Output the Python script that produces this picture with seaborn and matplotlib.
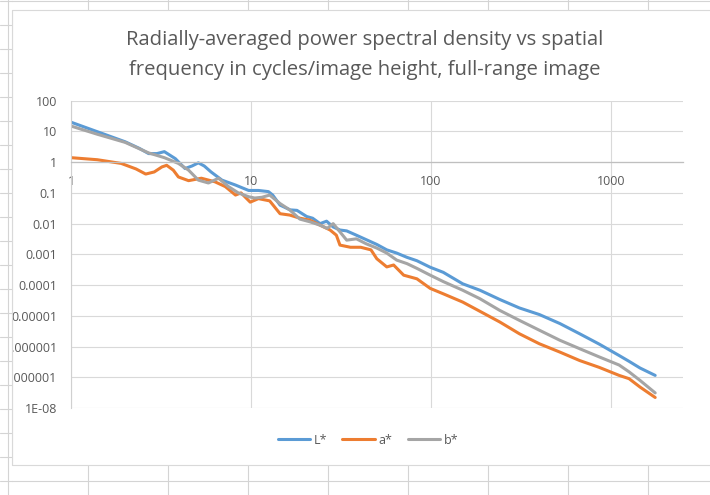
import matplotlib
matplotlib.use("Agg")
import matplotlib.pyplot as plt
import seaborn as sns
import pandas as pd
from matplotlib.lines import Line2D
from matplotlib.patches import Rectangle
from matplotlib.ticker import NullLocator

W, H = 710, 495

# values: spatial frequency (cycles/image height) and PSD
l_freq = [1, 1.4, 2, 2.4, 2.7, 3.0, 3.3, 3.8, 4.3, 4.7, 5.1, 5.5, 6.0, 6.9, 8.2, 9.7, 11, 12.5, 13.2, 14.5,
          16.5, 18, 20.4, 22, 24.2, 26.3, 28.6, 31.2, 34, 38.5, 43.7, 50, 56.8, 64.5,
          73.5, 83.5, 99, 117, 150, 187, 241, 310, 400, 520, 670, 860, 1110, 1260, 1450, 1760]
l_psd = [20, 9.8, 4.6, 2.8, 1.9, 1.9, 2.2, 1.3, 0.62, 0.75, 0.95, 0.75, 0.48, 0.26, 0.18, 0.12, 0.12, 0.11, 0.085, 0.040,
         0.028, 0.027, 0.017, 0.015, 0.010, 0.012, 0.0078, 0.0062, 0.0058, 0.0042, 0.0030, 0.0021, 0.0014, 0.0011,
         0.00080, 0.00062, 0.00038, 0.00026, 0.00011, 6.8e-5, 3.4e-5, 1.8e-5, 1.1e-5, 5.6e-6, 2.6e-6, 1.2e-6, 5.1e-7,
         3.3e-7, 2.0e-7, 1.15e-7]

a_freq = [1, 1.4, 1.9, 2.3, 2.6, 2.9, 3.2, 3.4, 3.7, 3.95, 4.5, 5.3, 6.3, 7.2, 8.2, 8.8, 9.9, 11, 12.7,
          14.5, 16.4, 18.7, 21.2, 24.2, 27.5, 29.8, 31.2, 35.7, 40.7, 46.4, 50, 56.8, 62,
          70.5, 83.5, 99, 117, 150, 183, 241, 310, 400, 520, 670, 860, 1110, 1260, 1450, 1760]
a_psd = [1.4, 1.2, 0.91, 0.6, 0.41, 0.48, 0.7, 0.79, 0.55, 0.33, 0.25, 0.30, 0.23, 0.16, 0.085, 0.10, 0.050, 0.065, 0.055,
         0.021, 0.019, 0.015, 0.013, 0.0089, 0.0062, 0.0042, 0.0020, 0.0017, 0.0017, 0.0014, 0.00072, 0.00039, 0.00045,
         0.00021, 0.00016, 7.8e-5, 5.2e-5, 2.8e-5, 1.5e-5, 6.3e-6, 2.6e-6, 1.23e-6, 6.6e-7, 3.5e-7, 2.1e-7, 1.15e-7,
         9.0e-8, 4.8e-8, 2.2e-8]

b_freq = [1, 1.4, 2, 2.7, 3.3, 3.95, 4.5, 5.1, 5.8, 6.6, 7.5, 8.5, 9.7, 10.5, 11.5, 12.7,
          14.5, 16.4, 18.7, 21.2, 24.2, 26.5, 28.6, 31.2, 34, 38.5, 43.7, 50, 56.8, 64.5,
          73.5, 83.5, 99, 117, 150, 187, 241, 310, 400, 520, 670, 860, 1110, 1260, 1450, 1760]
b_psd = [15, 8.1, 4.4, 2.0, 1.4, 0.91, 0.55, 0.26, 0.21, 0.30, 0.16, 0.10, 0.075, 0.068, 0.072, 0.085,
         0.045, 0.028, 0.014, 0.0115, 0.0089, 0.0070, 0.010, 0.0054, 0.0029, 0.0032, 0.0022, 0.0016, 0.0011, 0.00065,
         0.00050, 0.00035, 0.00021, 0.00013, 6.8e-5, 3.6e-5, 1.5e-5, 7.1e-6, 3.4e-6, 1.6e-6, 8.5e-7, 4.6e-7, 2.5e-7,
         1.5e-7, 7.9e-8, 3.1e-8]

channels = ["L*", "a*", "b*"]
colors = {"L*": "#5B9BD5", "a*": "#ED7D31", "b*": "#A5A5A5"}
x_ticks = [1, 10, 100, 1000]
x_labels = ["1", "10", "100", "1000"]
y_ticks = [100, 10, 1, 0.1, 0.01, 0.001, 1e-4, 1e-5, 1e-6, 1e-7, 1e-8]
y_labels = ["100", "10", "1", "0.1", "0.01", "0.001", "0.0001", "0.00001",
            "0.000001", "0.0000001", "1E-08"]
title1 = "Radially-averaged power spectral density vs spatial"
title2 = "frequency in cycles/image height, full-range image"

psd = pd.concat([
    pd.DataFrame({"freq": l_freq, "psd": l_psd, "channel": "L*"}),
    pd.DataFrame({"freq": a_freq, "psd": a_psd, "channel": "a*"}),
    pd.DataFrame({"freq": b_freq, "psd": b_psd, "channel": "b*"}),
])

sns.set_theme(style="white")
plt.rcParams["font.family"] = ["Open Sans", "DejaVu Sans"]
text_col = "#595959"
sheet_col = "#d4d4d4"

fig = plt.figure(figsize=(W / 100, H / 100), dpi=100)


# pixel -> figure fraction
def fx(px):
    return px / W


def fy(py):
    return 1 - py / H


# spreadsheet cells behind the chart
for x in range(8, W, 80):
    fig.add_artist(Line2D([fx(x), fx(x)], [0, 1], color=sheet_col, lw=0.8, zorder=-5))
for y in range(1, H, 24):
    fig.add_artist(Line2D([0, 1], [fy(y), fy(y)], color=sheet_col, lw=0.8, zorder=-5))
# chart area
fig.add_artist(Rectangle((fx(11.5), fy(465)), 1.0, fy(10) - fy(465), facecolor="white",
                         edgecolor="#d9d9d9", lw=0.8, zorder=-4))

ax = fig.add_axes([fx(71), fy(408), fx(683) - fx(71), fy(100.7) - fy(408)])
ax.set_facecolor("none")
sns.lineplot(data=psd, x="freq", y="psd", hue="channel", hue_order=channels, palette=colors,
             lw=2.2, estimator=None, sort=False, legend=False, ax=ax)
ax.set_xscale("log")
ax.set_yscale("log")
ax.set_xlim(1, 2512)
ax.set_ylim(1e-8, 100)
ax.set_xticks(x_ticks)
ax.set_xticklabels(x_labels)
ax.set_yticks(y_ticks)
ax.set_yticklabels(y_labels)
ax.xaxis.set_minor_locator(NullLocator())
ax.yaxis.set_minor_locator(NullLocator())
ax.set_xlabel("")
ax.set_ylabel("")
ax.grid(True, which="major", color="#d9d9d9", lw=0.8)
ax.set_axisbelow(True)
ax.spines["top"].set_visible(False)
ax.spines["right"].set_visible(False)
ax.spines["bottom"].set_position(("data", 1))
ax.spines["bottom"].set_color("#bfbfbf")
ax.spines["bottom"].set_linewidth(0.9)
ax.spines["left"].set_color("#d0d0d0")
ax.spines["left"].set_linewidth(0.8)
ax.tick_params(axis="both", length=0, labelsize=9, labelcolor=text_col)
ax.tick_params(axis="x", pad=9)
ax.tick_params(axis="y", pad=10)

# labels get cut off at the chart edge, as in the spreadsheet
fig.add_artist(Rectangle((0, 0), fx(11.5), 1, facecolor="white", edgecolor="none", zorder=5))
fig.add_artist(Line2D([fx(8), fx(8)], [0, 1], color=sheet_col, lw=0.8, zorder=6))
for y in range(1, H, 24):
    fig.add_artist(Line2D([0, fx(11.5)], [fy(y), fy(y)], color=sheet_col, lw=0.8, zorder=6))
fig.add_artist(Line2D([fx(11.5), fx(11.5)], [fy(10), fy(465)], color="#d9d9d9", lw=0.8, zorder=6))

fig.text(fx(365), fy(40), title1, ha="center", va="center", fontsize=14.6, color=text_col)
fig.text(fx(365), fy(70), title2, ha="center", va="center", fontsize=14.6, color=text_col)

handles = [Line2D([], [], color=colors[c], lw=2.2) for c in channels]
fig.legend(handles, channels, loc="center", bbox_to_anchor=(fx(368), fy(440)), ncol=3,
           frameon=False, fontsize=9, labelcolor=text_col, handlelength=2.6,
           handletextpad=0.3, columnspacing=1.2)

fig.savefig("out.png", dpi=100)
